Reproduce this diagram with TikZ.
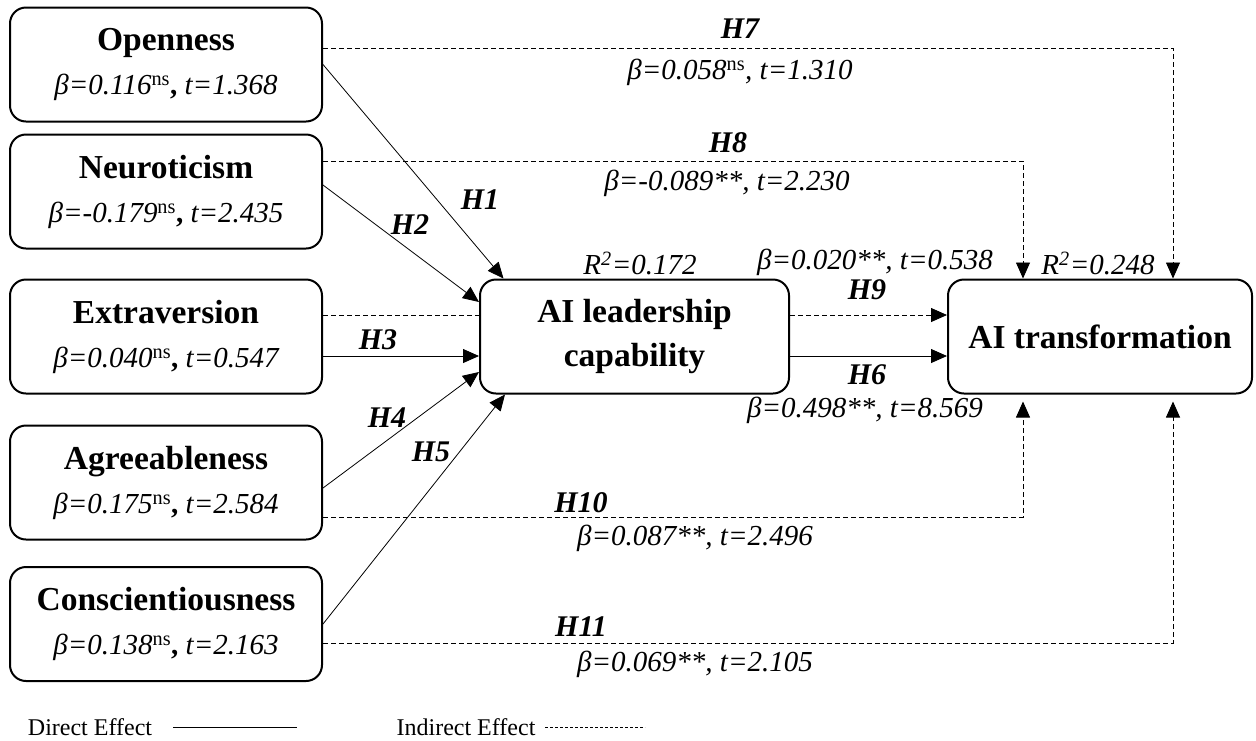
\documentclass[tikz,border=0pt]{standalone}
\usepackage{fontspec}
\setmainfont{Liberation Serif}
\usetikzlibrary{arrows.meta}
\newcommand\titlefont{\fontsize{33.5}{44}\selectfont\bfseries}
\tikzset{
  box/.style={draw, line width=2pt, rounded corners=16pt, minimum width=312pt,
    minimum height=114pt, align=center, inner sep=0pt},
  direct/.style={line width=0.8pt, -{Triangle[length=16pt,width=14pt]}},
  indirect/.style={line width=0.8pt, dash pattern=on 5pt off 3pt, -{Triangle[length=16pt,width=14pt]}},
  hyp/.style={font=\fontsize{30}{30}\selectfont\bfseries\itshape},
  est/.style={font=\fontsize{29}{30}\selectfont\itshape},
  legend/.style={font=\fontsize{24}{24}\selectfont}
}
\begin{document}
\begin{tikzpicture}[x=1pt,y=-1pt]
    \useasboundingbox (0,0) rectangle (1256,740);
    % personality traits
    \foreach \n/\y/\name/\b/\t in {open/64.5/Openness/0.116/1.368, neuro/191.5/Neuroticism/-0.179/2.435,
        extra/336.5/Extraversion/0.040/0.547, agree/482.5/Agreeableness/0.175/2.584,
        consc/624/Conscientiousness/0.138/2.163}
        \node[box, font=\fontsize{29}{44}\selectfont] (\n) at (166,\y)
            {{\titlefont \name}\\{\itshape β=\b}\textsuperscript{ns}\textbf{,} {\itshape t=\t}};
    \node[box, minimum width=309pt, font=\titlefont] (lead) at (634.5,336.5) {AI leadership\\capability};
    \node[box, minimum width=304pt, font=\titlefont] (trans) at (1100,336.5) {AI transformation};
    % direct effects
    \draw[direct] (open.east) -- ([xshift=-131pt]lead.north);
    \draw[direct] ([yshift=6.5pt]neuro.east) -- ([yshift=34.5pt]lead.west);
    \draw[direct] ([yshift=-19.5pt]extra.east) -- ([yshift=-19.5pt]lead.west);
    \draw[direct] ([yshift=-5.5pt]agree.east) -- ([yshift=-35.5pt]lead.west);
    \draw[direct] (consc.east) -- ([xshift=-129.5pt]lead.south);
    \draw[direct] ([yshift=-19.5pt]lead.east) -- ([yshift=-19.5pt]trans.west);
    % indirect effects
    \draw[indirect] ([yshift=16.5pt]open.east) -| ([xshift=73pt]trans.north);
    \draw[indirect] ([yshift=30.5pt]neuro.east) -| ([xshift=-77pt]trans.north);
    \draw[indirect, -] ([yshift=21.5pt]extra.east) -- ([yshift=21.5pt]lead.west);
    \draw[indirect] ([yshift=21.5pt]lead.east) -- ([yshift=21.5pt]trans.west);
    \draw[indirect, shorten >=7pt] ([yshift=-34.5pt]agree.east) -| ([xshift=-77pt]trans.south);
    \draw[indirect, shorten >=7pt] ([yshift=-19pt]consc.east) -| ([xshift=73pt]trans.south);
    % labels
    \node[hyp] (h1) at (480,200) {H1}; \node[hyp] (h2) at (410,225) {H2};
    \node[hyp] (h3) at (378,340) {H3}; \node[hyp] (h4) at (387,418) {H4};
    \node[hyp] (h5) at (431,452) {H5}; \node[hyp] (h6) at (867,375) {H6};
    \node[hyp] (h7) at (740,29) {H7};  \node[hyp] (h8) at (728,143) {H8};
    \node[hyp] (h9) at (867,290) {H9}; \node[hyp] (h10) at (581,503) {H10};
    \node[hyp] (h11) at (581,627) {H11};
    \node[est] (b7) at (740,72) {β=0.058\textsuperscript{\upshape ns}, t=1.310};
    \node[est] (b8) at (727,183) {β=-0.089**, t=2.230};
    \node[est] (b9) at (875,262) {β=0.020**, t=0.538};
    \node[est] (b6) at (865,410) {β=0.498**, t=8.569};
    \node[est] (b10) at (695,538) {β=0.087**, t=2.496};
    \node[est] (b11) at (695,664) {β=0.069**, t=2.105};
    \node[est] (r1) at (640,263) {R\textsuperscript{2}=0.172};
    \node[est] (r2) at (1098,263) {R\textsuperscript{2}=0.248};
    % legend
    \node[legend] (dlab) at (90,727) {Direct Effect};
    \node[legend] (ilab) at (466,727) {Indirect Effect};
    \coordinate (d1) at (173,727); \coordinate (d2) at (297,727);
    \coordinate (i1) at (545,727); \coordinate (i2) at (645,727);
    \draw[line width=0.8pt] (d1) -- (d2);
    \draw[line width=0.8pt, dash pattern=on 3pt off 2pt] (i1) -- (i2);
\end{tikzpicture}
\end{document}
